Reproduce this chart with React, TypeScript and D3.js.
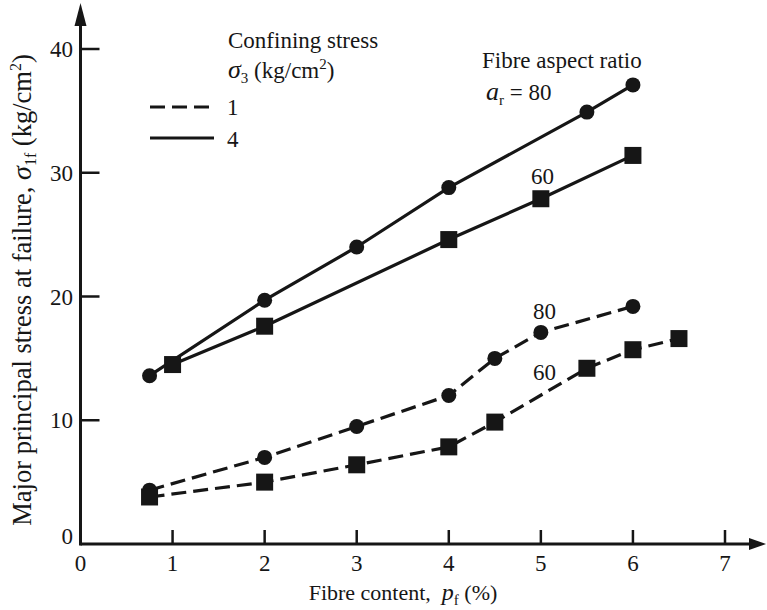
import React from "react";
import * as d3 from "d3";

const xTicks = [0, 1, 2, 3, 4, 5, 6, 7];
const yTicks = [0, 10, 20, 30, 40];

// σ3 = 4, ar = 80 (solid, circles)
const s4a80x = [0.75, 2, 3, 4, 5.5, 6];
const s4a80y = [13.6, 19.7, 24.0, 28.8, 34.9, 37.1];
// σ3 = 4, ar = 60 (solid, squares)
const s4a60x = [1, 2, 4, 5, 6];
const s4a60y = [14.5, 17.6, 24.6, 27.9, 31.4];
// σ3 = 1, ar = 80 (dashed, circles)
const s1a80x = [0.75, 2, 3, 4, 4.5, 5, 6];
const s1a80y = [4.35, 7.0, 9.5, 12.0, 15.0, 17.1, 19.2];
// σ3 = 1, ar = 60 (dashed, squares)
const s1a60x = [0.75, 2, 3, 4, 4.5, 5.5, 6, 6.5];
const s1a60y = [3.8, 5.0, 6.4, 7.85, 9.85, 14.2, 15.7, 16.6];

const INK = "#161616";
const FONT = "'Liberation Serif', 'Times New Roman', serif";

export default function App() {
  const x = d3.scaleLinear().domain([0, 7]).range([80.5, 725]);
  const y = d3.scaleLinear().domain([0, 40]).range([544, 49]);
  const line = d3
    .line<[number, number]>()
    .x((d) => x(d[0]))
    .y((d) => y(d[1]));

  const series = [
    { xs: s4a80x, ys: s4a80y, dashed: false, marker: "circle" },
    { xs: s4a60x, ys: s4a60y, dashed: false, marker: "square" },
    { xs: s1a80x, ys: s1a80y, dashed: true, marker: "circle" },
    { xs: s1a60x, ys: s1a60y, dashed: true, marker: "square" },
  ];

  const x0 = x(0);
  const y0 = y(0);
  const FS = 23;
  const SUB = 15;

  return (
    <svg
      width={767}
      height={610}
      style={{ position: "absolute", left: 0, top: 0, background: "#fff" }}
      fontFamily={FONT}
    >
      {/* axes */}
      <line x1={x0} y1={y0} x2={752} y2={y0} stroke={INK} strokeWidth={3} />
      <path d={`M766,${y0} L749,${y0 - 6} L749,${y0 + 6} Z`} fill={INK} />
      <line x1={x0} y1={y0 + 1.5} x2={x0} y2={22} stroke={INK} strokeWidth={3} />
      <path d={`M${x0},3 L${x0 - 6},26 L${x0 + 6},26 Z`} fill={INK} />

      {xTicks.map((t) => (
        <g key={"xt" + t}>
          {t > 0 && (
            <line x1={x(t)} y1={y0} x2={x(t)} y2={y0 - 14} stroke={INK} strokeWidth={2.5} />
          )}
          <text x={x(t)} y={y0 + 27} textAnchor="middle" fontSize={FS} fill={INK}>
            {t}
          </text>
        </g>
      ))}
      {yTicks.map((t) => (
        <g key={"yt" + t}>
          {t > 0 && (
            <line x1={x0} y1={y(t)} x2={x0 + 19} y2={y(t)} stroke={INK} strokeWidth={2.5} />
          )}
          <text
            x={73}
            y={t === 0 ? y(t) : y(t) + 8}
            textAnchor="end"
            fontSize={FS}
            fill={INK}
          >
            {t}
          </text>
        </g>
      ))}

      {/* axis titles */}
      <text x={403} y={600} textAnchor="middle" fontSize={22} fill={INK}>
        Fibre content,{"\u00A0\u00A0"}
        <tspan fontStyle="italic" fontSize={24}>p</tspan>
        <tspan fontSize={SUB} dy={5}>f</tspan>
        <tspan dy={-5}> (%)</tspan>
      </text>
      <text
        transform="translate(31,290) rotate(-90)"
        textAnchor="middle"
        fontSize={26.5}
        fill={INK}
      >
        Major principal stress at failure,{" "}
        <tspan fontStyle="italic" fontSize={28}>σ</tspan>
        <tspan fontSize={16} dy={5}>1f</tspan>
        <tspan dy={-5}> (kg/cm</tspan>
        <tspan fontSize={16} dy={-10}>2</tspan>
        <tspan dy={10}>)</tspan>
      </text>

      {/* series */}
      {series.map((s, i) => {
        const pts: [number, number][] = s.xs.map((v, j) => [v, s.ys[j]]);
        return (
          <g key={"s" + i}>
            <path
              d={line(pts) || ""}
              fill="none"
              stroke={INK}
              strokeWidth={3.2}
              strokeDasharray={s.dashed ? "15 7" : undefined}
            />
            {pts.map((p, j) =>
              s.marker === "circle" ? (
                <circle key={j} cx={x(p[0])} cy={y(p[1])} r={7.5} fill={INK} />
              ) : (
                <rect
                  key={j}
                  x={x(p[0]) - 8.5}
                  y={y(p[1]) - 8.5}
                  width={17}
                  height={17}
                  fill={INK}
                />
              )
            )}
          </g>
        );
      })}

      {/* legend */}
      <text x={228} y={48} fontSize={FS} fill={INK}>
        Confining stress
      </text>
      <text x={228} y={78} fontSize={FS} fill={INK}>
        <tspan fontStyle="italic" fontSize={26}>σ</tspan>
        <tspan fontSize={SUB} dy={5}>3</tspan>
        <tspan dy={-5}> (kg/cm</tspan>
        <tspan fontSize={SUB} dy={-9}>2</tspan>
        <tspan dy={9}>)</tspan>
      </text>
      <line x1={150} y1={107} x2={214} y2={107} stroke={INK} strokeWidth={3.2} strokeDasharray="15 7" />
      <text x={227} y={115} fontSize={FS} fill={INK}>1</text>
      <line x1={150} y1={138} x2={214} y2={138} stroke={INK} strokeWidth={3.2} />
      <text x={227} y={147} fontSize={FS} fill={INK}>4</text>

      {/* annotations */}
      <text x={482} y={68} fontSize={FS} fill={INK}>
        Fibre aspect ratio
      </text>
      <text x={486} y={100} fontSize={FS} fill={INK}>
        <tspan fontStyle="italic" fontSize={26}>a</tspan>
        <tspan fontSize={SUB} dy={5}>r</tspan>
        <tspan dy={-5}> = 80</tspan>
      </text>
      <text x={531} y={184} fontSize={FS} fill={INK}>60</text>
      <text x={533} y={319} fontSize={FS} fill={INK}>80</text>
      <text x={533} y={380} fontSize={FS} fill={INK}>60</text>
    </svg>
  );
}
